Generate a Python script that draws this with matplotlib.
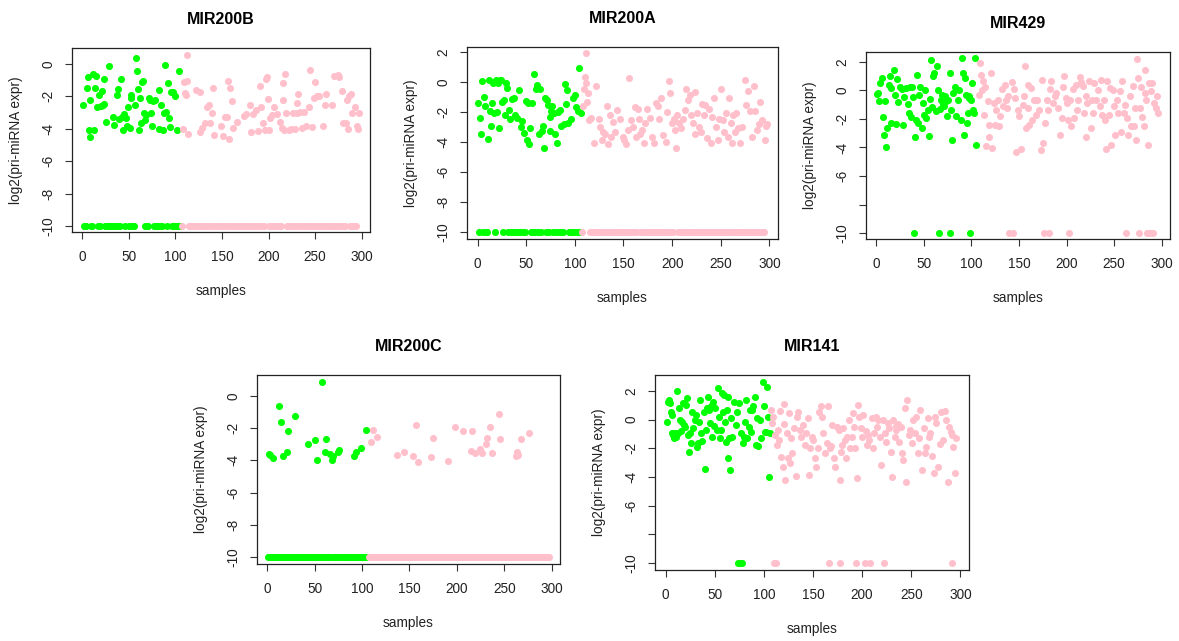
import numpy as np
import matplotlib.pyplot as plt

plt.rcParams['font.family'] = ['Liberation Sans', 'DejaVu Sans']
plt.rcParams['axes.unicode_minus'] = False

# 297 samples, the first 106 belong to the green group, the rest to pink
n_samples = 297
n_green = 106
zero_level = -10

# expressed samples (sample, log2 value); every sample not listed sits at -10
mir200b_expr = [
    (1, -2.5), (5, -1.45), (6, -0.8), (7, -4.1), (8, -2.25), (9, -4.5), (12, -0.6), (13, -4.05),
    (14, -1.45), (15, -0.75), (16, -2.65), (18, -1.9), (20, -2.6), (21, -1.65), (22, -2.55),
    (23, -0.9), (24, -2.45), (26, -3.6), (29, -0.15), (33, -3.25), (34, -3.75), (37, -1.9),
    (39, -1.55), (40, -3.4), (42, -0.9), (43, -3.3), (44, -4.05), (45, -3.1), (47, -3.35),
    (48, -3.85), (49, -2.65), (51, -3.95), (52, -2.1), (53, -1.9), (57, -2.5), (58, 0.4),
    (59, -0.45), (60, -1.55), (61, -4.05), (62, -2.1), (63, -3.65), (64, -1.1), (65, -1.05),
    (66, -3.05), (67, -3.45), (69, -3.15), (72, -2.1), (73, -2.2), (74, -3.0), (75, -3.8),
    (76, -2.3), (78, -2.2), (82, -1.6), (83, -4.0), (85, -2.5), (87, -4.05), (88, -3.05),
    (89, -0.05), (90, -2.95), (92, -1.15), (93, -3.35), (94, -3.9), (95, -1.75), (98, -1.7),
    (100, -2.0), (102, -4.05), (104, -0.4),
    (108, -4.0), (109, -1.1), (110, -1.8), (111, -1.9), (112, 0.55), (113, -1.05), (114, -4.3),
    (122, -1.6), (126, -1.7), (127, -4.2), (129, -3.95), (132, -3.65), (134, -2.65), (136, -2.5),
    (137, -3.65), (139, -3.05), (140, -1.5), (141, -4.4), (149, -3.85), (151, -4.45), (153, -3.25),
    (155, -3.25), (156, -1.05), (158, -4.6), (159, -1.5), (161, -2.3), (162, -3.95), (166, -3.6),
    (174, -3.2), (176, -3.1), (180, -2.5), (181, -4.2), (183, -3.1), (187, -2.85), (189, -4.15),
    (191, -1.35), (192, -2.65), (194, -3.65), (196, -4.05), (197, -0.9), (198, -0.8), (199, -2.15),
    (200, -4.1), (202, -3.35), (204, -3.15), (206, -2.65), (209, -3.1), (212, -3.55), (214, -3.95),
    (215, -2.2), (216, -1.15), (217, -4.05), (218, -0.6), (219, -3.05), (222, -4.1), (224, -4.0),
    (226, -3.05), (228, -4.0), (230, -3.0), (231, -2.4), (232, -1.85), (234, -2.95), (236, -3.95),
    (238, -2.95), (240, -3.8), (243, -2.65), (244, -0.35), (247, -3.9), (249, -2.1), (250, -1.1),
    (252, -2.0), (254, -1.95), (258, -3.8), (261, -2.5), (262, -1.85), (268, -2.5), (270, -0.75),
    (274, -0.7), (276, -0.8), (279, -1.65), (280, -3.65), (283, -3.65), (284, -2.2), (285, -4.0),
    (286, -2.0), (288, -1.85), (290, -3.05), (293, -2.65), (295, -3.8), (296, -4.0), (297, -3.0),
]

mir200a_expr = [
    (1, -1.4), (3, -2.4), (4, -3.5), (5, 0.05), (7, -1.0), (8, -1.6), (11, -3.8), (12, 0.1),
    (13, -1.95), (14, -2.95), (15, -1.4), (16, -0.1), (17, -2.1), (19, 0.15), (20, -2.0),
    (21, -0.1), (22, -3.05), (23, 0.15), (24, 0.1), (25, -1.35), (27, -1.2), (28, -2.2),
    (29, -0.05), (30, -0.4), (32, -1.9), (33, -2.5), (35, -1.15), (37, -1.1), (39, -2.2),
    (41, -2.4), (43, -0.55), (45, -3.0), (46, -2.6), (48, -3.4), (50, -1.25), (51, -3.9),
    (52, -1.4), (53, -4.15), (54, -3.05), (56, -1.4), (58, 0.5), (60, -0.5), (61, -0.2),
    (63, -3.5), (64, -0.45), (66, -3.3), (67, -2.95), (68, -4.4), (69, -1.1), (71, -1.2),
    (72, -1.55), (74, -3.3), (75, -2.35), (76, -1.95), (77, -1.6), (79, -2.1), (80, -3.45),
    (82, -4.1), (83, -2.0), (85, -1.9), (86, -2.95), (89, -2.8), (90, -0.15), (91, -1.5),
    (92, -0.55), (93, -2.75), (96, -2.5), (98, -1.05), (100, -0.9), (101, -1.7), (103, -1.95),
    (104, 0.9), (106, -2.1),
    (108, -1.6), (109, -0.5), (110, 0.35), (111, 1.9), (112, -0.1), (113, -1.35), (114, -0.75),
    (115, -2.55), (117, -2.4), (120, -4.1), (122, -0.25), (125, -2.5), (126, -3.0), (128, -3.9),
    (129, -3.35), (131, -3.45), (133, -1.6), (134, -4.15), (136, -2.2), (137, -3.65), (139, -2.65),
    (141, -3.35), (143, -1.9), (146, -2.45), (149, -3.65), (151, -3.85), (153, -4.15), (155, -3.2),
    (156, 0.25), (158, -2.55), (160, -3.0), (162, -1.65), (163, -3.65), (165, -1.8), (166, -2.5),
    (167, -3.45), (169, -3.2), (171, -4.1), (172, -2.75), (174, -1.8), (177, -2.4), (179, -3.65),
    (181, -4.05), (183, -1.4), (185, -1.6), (187, -2.45), (189, -1.05), (191, -3.55), (194, -4.0),
    (195, -2.0), (197, 0.05), (198, -0.75), (200, -2.75), (202, -2.45), (203, -3.2), (204, -4.4),
    (205, -2.2), (207, -2.75), (209, -3.05), (211, -2.45), (213, -1.9), (214, -0.45), (216, -1.2),
    (218, -0.9), (219, -2.2), (221, -2.75), (223, -3.45), (224, -0.7), (226, -2.1), (228, -3.0),
    (230, -3.35), (231, -1.45), (233, -2.2), (234, -1.55), (236, -3.75), (238, -1.8), (240, -4.1),
    (241, -2.35), (243, -1.1), (245, -3.0), (247, -3.9), (248, -2.45), (250, -0.45), (252, -2.55),
    (253, -3.35), (255, -2.1), (257, -3.65), (258, -1.1), (260, -2.75), (262, -4.1), (263, -2.2),
    (265, -3.35), (266, -2.1), (268, -3.1), (270, -4.1), (272, -3.0), (275, 0.15), (276, -1.55),
    (278, -0.6), (280, -1.95), (282, -3.65), (284, -0.25), (285, -1.95), (287, -3.2), (289, -2.8),
    (290, -1.35), (292, -2.55), (295, -3.9), (296, -2.95), (297, -2.8),
]

mir429_expr = [
    (1, -0.25), (2, -0.15), (3, -0.75), (4, 0.55), (6, 0.85), (7, -1.85), (8, -3.1), (9, -0.75),
    (10, -3.95), (11, -2.65), (13, 0.35), (14, 1.0), (15, -2.3), (16, 0.15), (19, 1.45),
    (20, -0.3), (21, -2.35), (22, 0.8), (23, -0.8), (25, 0.25), (27, 0.1), (28, -2.4), (29, -0.45),
    (31, 0.15), (33, -0.95), (34, -1.6), (35, 0.25), (36, -1.85), (38, 0.25), (39, -0.45),
    (41, -3.25), (42, -2.05), (43, 1.1), (44, -2.3), (45, -0.3), (46, 0.25), (48, -2.65),
    (49, -0.9), (50, -1.7), (51, 0.0), (52, -1.9), (54, -1.35), (55, -3.2), (57, -0.6), (58, 2.15),
    (59, -1.15), (60, 1.0), (61, 1.2), (63, -1.45), (64, 1.75), (65, 0.0), (67, -1.3), (68, -0.65),
    (69, -0.3), (70, -0.95), (71, -1.1), (72, -0.4), (73, -0.75), (74, -1.8), (75, -0.65),
    (78, 1.2), (79, -1.35), (80, -3.45), (81, -0.15), (83, 0.25), (84, -1.8), (86, -0.65),
    (87, 0.0), (89, -2.1), (90, 2.3), (91, 1.2), (92, -3.15), (93, 0.85), (94, -0.3), (95, -2.3),
    (96, -1.6), (97, -0.4), (98, -0.55), (100, -0.65), (101, 0.5), (102, -1.35), (103, -1.6),
    (104, 2.3), (105, -3.8),
    (108, -0.3), (109, 1.95), (110, 1.1), (111, 0.05), (112, 0.65), (113, -1.7), (114, 0.25),
    (115, -3.9), (117, -0.75), (118, -3.25), (119, -2.4), (121, 1.2), (122, -4.05), (124, -0.9),
    (125, -2.4), (126, -1.35), (128, -0.65), (129, -2.5), (130, -1.8), (132, 0.1), (133, -1.1),
    (135, 0.35), (136, -0.65), (137, -1.25), (139, -0.4), (143, 0.6), (145, 0.1), (146, -0.55),
    (147, -4.35), (149, -1.35), (150, -1.8), (152, -4.1), (154, -1.05), (155, -0.4), (156, 1.7),
    (157, -2.65), (159, -1.25), (160, 0.4), (161, -2.4), (163, 0.15), (164, -2.05), (166, -0.65),
    (168, -1.7), (169, -0.65), (171, -1.35), (173, -4.15), (174, 0.75), (175, -3.65), (177, -2.3),
    (179, -0.65), (181, -1.35), (183, 0.1), (184, 0.65), (186, -0.9), (188, -0.4), (189, -0.15),
    (191, -1.25), (193, -3.15), (195, -1.95), (196, 0.25), (197, 1.05), (199, -0.55), (200, -0.9),
    (202, -2.05), (204, -0.65), (205, -2.5), (207, 0.1), (208, -1.95), (210, 0.4), (211, -1.35),
    (212, -0.65), (214, 0.95), (215, 0.6), (217, 0.3), (218, -1.6), (220, -0.4), (221, -3.25),
    (222, -0.9), (224, 0.65), (226, -2.65), (227, -0.65), (228, -1.6), (229, 0.5), (231, -0.65),
    (233, 0.05), (235, -1.1), (236, 0.75), (237, -1.7), (239, -0.65), (240, -2.05), (242, -4.1),
    (243, 0.7), (245, -1.7), (246, 0.15), (247, -3.8), (249, 0.05), (250, -1.1), (251, -3.15),
    (253, -0.65), (254, -1.6), (256, -0.05), (257, -2.9), (258, 0.65), (260, -1.6), (262, -1.0),
    (264, -1.95), (265, -3.15), (267, -0.4), (268, -2.5), (270, 0.3), (271, -2.5), (272, -1.25),
    (273, -3.45), (274, 2.2), (275, 0.85), (277, -1.25), (278, 0.25), (279, -1.85), (281, -2.5),
    (282, -0.15), (283, 1.45), (284, -0.65), (286, -3.8), (287, 0.55), (289, -0.05), (290, 0.5),
    (292, -0.9), (294, -1.25), (295, -0.4), (296, -1.6),
]
mir429_zero = [40, 66, 77, 99, 140, 144, 176, 182, 203, 263, 276, 285, 288, 291]

mir200c_expr = [
    (2, -3.6), (3, -3.65), (6, -3.85), (12, -0.6), (14, -1.6), (17, -3.75), (21, -3.5),
    (22, -2.15), (29, -1.25), (43, -3.0), (50, -2.75), (52, -4.0), (58, 0.85), (61, -3.45),
    (62, -2.65), (66, -3.6), (68, -3.95), (69, -3.7), (75, -3.5), (76, -3.35), (92, -3.7),
    (94, -3.45), (99, -3.2), (104, -2.1),
    (109, -2.85), (112, -2.1), (116, -2.55), (137, -3.65), (144, -3.5), (154, -3.75), (157, -1.8),
    (159, -4.1), (173, -3.8), (175, -2.6), (191, -4.05), (198, -1.95), (206, -2.15), (215, -3.4),
    (216, -2.15), (219, -3.55), (224, -3.3), (226, -3.55), (231, -3.0), (232, -2.6), (235, -1.95),
    (237, -3.55), (244, -1.1), (245, -2.7), (262, -3.7), (263, -3.5), (265, -3.65), (268, -2.65),
    (276, -2.3),
]

mir141_expr = [
    (1, -0.15), (2, 1.25), (3, 1.4), (4, 1.15), (5, 0.55), (6, 0.35), (7, -0.95), (8, -1.1),
    (9, -1.3), (10, -0.9), (11, -1.2), (12, 2.0), (13, -0.95), (14, 0.85), (15, -0.05), (16, -0.8),
    (17, -0.15), (18, 1.15), (19, -0.4), (20, -0.5), (21, 1.0), (22, 1.5), (23, -1.1), (24, -2.25),
    (25, -0.9), (26, -1.65), (27, 0.55), (28, -0.6), (30, -0.05), (31, 0.3), (32, -1.9),
    (33, -1.65), (34, -0.15), (35, 1.4), (36, -0.95), (37, -1.5), (39, 0.55), (40, -3.45),
    (41, -0.7), (42, 0.8), (43, 1.6), (44, 0.7), (45, -0.2), (46, 0.95), (47, -1.2), (48, 1.25),
    (49, -0.45), (50, 0.8), (52, -0.7), (53, 2.2), (54, 0.2), (55, -1.3), (56, -0.7), (57, 1.85),
    (58, 0.55), (59, 1.7), (60, -0.15), (61, -1.55), (62, 0.65), (63, 1.6), (64, -2.7), (65, -1.3),
    (66, -3.5), (67, 0.15), (68, -1.2), (70, 1.25), (72, -0.4), (73, 0.55), (75, 1.2), (77, -0.95),
    (79, -1.65), (80, -1.2), (81, -0.15), (82, 1.4), (83, -1.3), (85, -0.5), (86, 0.65),
    (87, -0.85), (88, 0.65), (89, 0.95), (91, 1.6), (92, -1.8), (93, 0.1), (94, -1.85), (96, -0.05),
    (97, -1.3), (99, 2.6), (100, 0.95), (101, -0.85), (102, -0.85), (103, 2.3), (104, 0.2),
    (105, -4.0), (106, -0.9),
    (107, 0.65), (108, -0.25), (109, 0.2), (111, -1.1), (113, -1.8), (114, -0.75), (115, -1.45),
    (116, 0.6), (117, -2.6), (119, -3.3), (120, -0.3), (121, 1.1), (122, -4.2), (124, -0.95),
    (125, -2.65), (126, 0.45), (127, -3.05), (128, -1.3), (129, -2.35), (131, -0.6), (133, -3.95),
    (134, 0.2), (135, 0.55), (137, -0.7), (138, -1.2), (140, -0.35), (142, -1.8), (143, -0.9),
    (145, 0.1), (146, -3.85), (147, -1.95), (149, -1.2), (150, -1.45), (152, -2.7), (153, -3.3),
    (155, -2.0), (156, 0.55), (158, 0.95), (159, 0.2), (160, -0.95), (162, -2.35), (164, -1.6),
    (165, 0.95), (167, -1.95), (168, -1.85), (169, -0.4), (171, -2.7), (172, -3.3), (174, -0.5),
    (176, -0.75), (177, -4.2), (179, -2.25), (180, -1.8), (181, -0.55), (183, -1.45), (184, -2.7),
    (185, -1.2), (187, -0.05), (188, -1.95), (190, -1.2), (191, 0.45), (192, -0.5), (193, -2.0),
    (195, -4.1), (196, 1.05), (197, 0.2), (199, -0.55), (200, -1.2), (201, 0.35), (204, -0.8),
    (205, -1.8), (206, -1.1), (207, -1.45), (210, 0.1), (211, -2.0), (212, -0.95), (214, 0.2),
    (215, -0.5), (216, 0.0), (218, -1.2), (219, -3.15), (221, -0.05), (223, -0.95), (224, -1.55),
    (226, -0.25), (227, -0.6), (229, -2.25), (230, -4.0), (231, -0.05), (233, -1.2), (234, -0.45),
    (235, -0.75), (237, -0.3), (238, -1.55), (240, -0.5), (241, -2.35), (242, -2.8), (244, 0.85),
    (245, -4.35), (246, 1.35), (248, -1.1), (249, -0.75), (251, -1.65), (252, -0.05), (254, -0.95),
    (255, 0.2), (257, -2.35), (258, -1.3), (259, 0.65), (261, -3.5), (263, -0.6), (264, -2.35),
    (265, -1.9), (267, 0.1), (268, -1.2), (269, -0.95), (271, -2.5), (273, -3.75), (274, 0.2),
    (275, -0.25), (277, -3.3), (279, -1.7), (280, 0.55), (282, -1.45), (284, 0.6), (285, -0.05),
    (287, -4.35), (288, -0.5), (290, -0.85), (292, -1.1), (293, -1.9), (295, -3.75), (296, -1.25),
]
mir141_zero = [74, 76, 78, 110, 112, 166, 178, 194, 203, 208, 222, 291]

titles = ['MIR200B', 'MIR200A', 'MIR429', 'MIR200C', 'MIR141']


def all_missing(expr):
    listed = {s for s, _ in expr}
    return [s for s in range(1, n_samples + 1) if s not in listed]


panels = [
    (mir200b_expr, all_missing(mir200b_expr)),
    (mir200a_expr, all_missing(mir200a_expr)),
    (mir429_expr, mir429_zero),
    (mir200c_expr, all_missing(mir200c_expr)),
    (mir141_expr, mir141_zero),
]

# axes boxes in pixels: left, top, right, bottom
boxes = [(72, 48, 370, 232), (467, 47, 778, 239), (866, 52, 1170, 239),
         (257, 375, 560, 564), (655, 375, 969, 570)]
ylims = [(-10.37, 0.99), (-10.47, 2.33), (-10.42, 2.7), (-10.43, 1.3), (-10.49, 3.12)]
yticks = [[0, -2, -4, -6, -8, -10], [2, 0, -2, -4, -6, -8, -10], [2, 0, -2, -4, -6, -8, -10],
          [0, -2, -4, -6, -8, -10], [2, 0, -2, -4, -6, -8, -10]]
hide_m8 = [False, False, True, False, True]

W, H = 1179, 641
fig = plt.figure(figsize=(W / 100, H / 100), dpi=100)

for i in range(5):
    l, t, r, b = boxes[i]
    ax = fig.add_axes([l / W, (H - b) / H, (r - l) / W, (b - t) / H])
    expr, zeros = panels[i]
    pts = [(s, v) for s, v in expr] + [(s, zero_level) for s in zeros]
    pts.sort()
    xs = np.array([p[0] for p in pts])
    ys = np.array([p[1] for p in pts])
    g = xs <= n_green
    ax.scatter(xs[g], ys[g], s=26, color='#00FF00', linewidths=0, zorder=2)
    ax.scatter(xs[~g], ys[~g], s=26, color='#FFC0CB', linewidths=0, zorder=2)

    ax.set_xlim(-10.8, 308.8)
    ax.set_ylim(*ylims[i])
    ax.set_xticks([0, 50, 100, 150, 200, 250, 300])
    ax.set_yticks(yticks[i])
    labels = [str(v) for v in yticks[i]]
    if hide_m8[i]:
        labels[yticks[i].index(-8)] = ''
    ax.set_yticklabels(labels, rotation=90, va='center')
    ax.tick_params(length=5, width=0.8, color='#333333', labelsize=9.8, labelcolor='#222222')
    ax.tick_params(axis='x', pad=8)
    ax.tick_params(axis='y', pad=7)
    for sp in ax.spines.values():
        sp.set_linewidth(0.9)
        sp.set_color('#222222')
    ax.set_title(titles[i], fontsize=11.5, fontweight='bold', pad=17)
    ax.set_xlabel('samples', fontsize=9.8, labelpad=14, color='#222222')
    ax.set_ylabel('log2(pri-miRNA expr)', fontsize=9.8, labelpad=13, color='#222222')

fig.savefig('out.png', dpi=100)
